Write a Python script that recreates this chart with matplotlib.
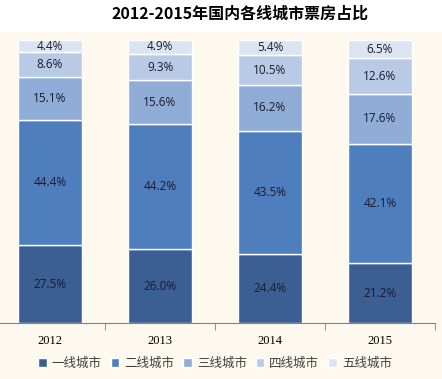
import matplotlib.pyplot as plt
import numpy as np

plt.rcParams['font.family'] = ['Noto Sans CJK SC', 'DejaVu Sans']

years = ['2012', '2013', '2014', '2015']
tiers = ['一线城市', '二线城市', '三线城市', '四线城市', '五线城市']
tier1 = [27.5, 26.0, 24.4, 21.2]
tier2 = [44.4, 44.2, 43.5, 42.1]
tier3 = [15.1, 15.6, 16.2, 17.6]
tier4 = [8.6, 9.3, 10.5, 12.6]
tier5 = [4.4, 4.9, 5.4, 6.5]
colors = ['#3B5F93', '#4F7EBE', '#8FADD6', '#B8CAE5', '#DCE4F1']

W, H = 442, 379
fig = plt.figure(figsize=(W / 100, H / 100), dpi=100)
fig.patch.set_facecolor('white')

# cream panel behind the chart
bg = fig.add_axes([0, 0, 1, 1 - 32 / H])
bg.set_facecolor('#FDF9EF')
bg.set_xticks([])
bg.set_yticks([])
for s in bg.spines.values():
    s.set_visible(False)

# plot area: x from -5 to 435 px, y from 40 to 323 px
ax = fig.add_axes([-5 / W, 1 - 323 / H, 440 / W, (323 - 40) / H])
ax.set_facecolor('none')

x = np.arange(len(years))
bottom = np.zeros(len(years))
for vals, col, name in zip([tier1, tier2, tier3, tier4, tier5], colors, tiers):
    ax.bar(x, vals, 0.58, bottom=bottom, color=col, edgecolor='white',
           linewidth=1, label=name)
    for xi, b, v in zip(x, bottom, vals):
        ax.text(xi, b + v / 2, f'{v:.1f}%', ha='center', va='center',
                fontsize=8.5, color='#1a1a2e', family=['Open Sans', 'DejaVu Sans'])
    bottom += np.array(vals)

ax.set_xlim(-0.5, 3.5)
ax.set_ylim(0, 100)
ax.set_yticks([])
for s in ['top', 'right', 'left']:
    ax.spines[s].set_visible(False)
ax.spines['bottom'].set_color('#7f7f7f')
ax.set_xticks(x)
ax.set_xticklabels(years, fontsize=9, family=['Liberation Serif', 'DejaVu Serif'])
ax.tick_params(axis='x', which='major', length=0, pad=9)
ax.set_xticks([0.5, 1.5, 2.5, 3.5], minor=True)
ax.tick_params(axis='x', which='minor', length=5, color='#7f7f7f', direction='out')

fig.text(240 / W, 1 - 14 / H, '2012-2015年国内各线城市票房占比', ha='center', va='center',
         fontsize=11.5, fontweight='bold')

leg = fig.legend(loc='center', bbox_to_anchor=(215 / W, 1 - 363 / H), ncol=5,
                 frameon=False, fontsize=9, handlelength=0.7, handleheight=0.7,
                 handletextpad=0.4, columnspacing=0.7)
for t in leg.get_texts():
    t.set_color('#404040')

fig.savefig('out.png', dpi=100)
